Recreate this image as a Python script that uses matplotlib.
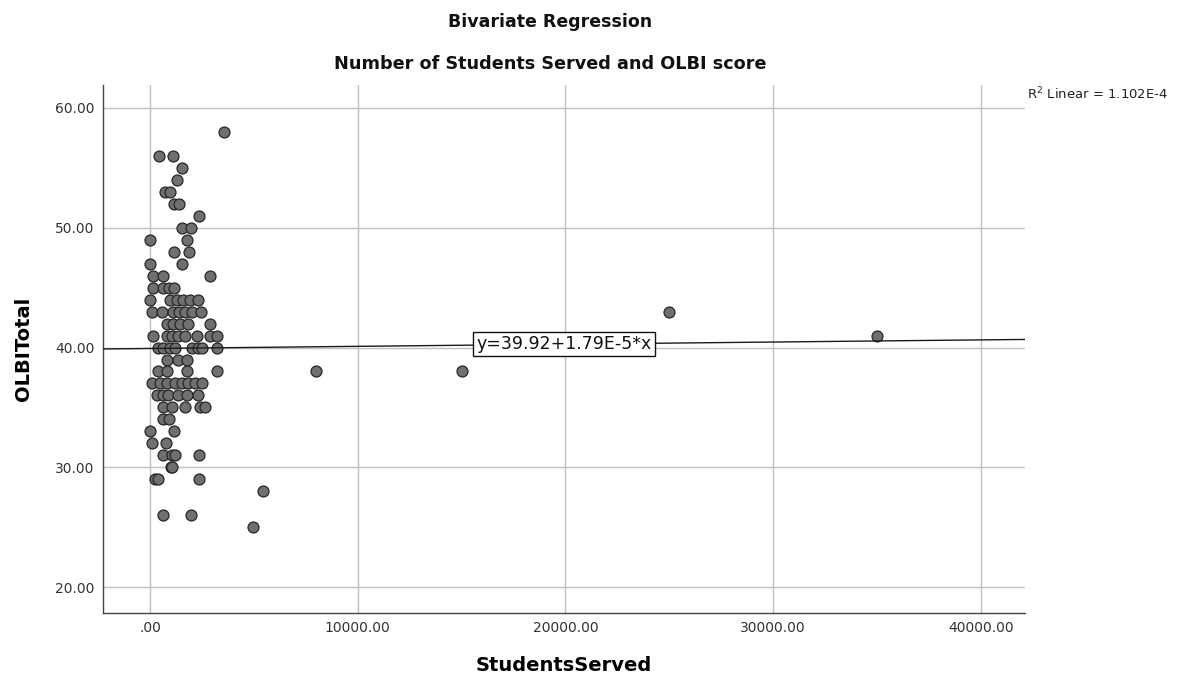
import matplotlib
matplotlib.use("Agg")
import matplotlib.pyplot as plt
import numpy as np

# Observations: number of students served vs. OLBI total score
students_served = [
    3570,
    430, 1110,
    1545,
    1300,
    720, 965,
    1160, 1400,
    2365,
    1545, 1980,
    0, 1790,
    1160, 1880,
    0, 1545,
    145, 630, 2900,
    145, 630, 920, 1160,
    0, 965, 1300, 1590, 1930, 2320,
    100, 580, 1110, 1400, 1690, 2030, 2460, 25000,
    820, 1110, 1450, 1830, 2900,
    145, 820, 1060, 1350, 1690, 2270, 2900, 3230, 35000,
    390, 630, 965, 1210, 2030, 2320, 2510, 3230,
    820, 1350, 1790,
    390, 820, 1790, 3230, 8000, 15000,
    100, 480, 820, 1210, 1545, 1830, 2170, 2510,
    340, 630, 870, 1350, 1790, 2320,
    630, 1060, 1690, 2410, 2650,
    630, 920,
    0, 1160,
    100, 770,
    630, 1060, 1210, 2365,
    1010, 1060,
    240, 390, 2365,
    5450,
    630, 1980,
    4970,
]
olbi_total = [
    58,
    56, 56,
    55,
    54,
    53, 53,
    52, 52,
    51,
    50, 50,
    49, 49,
    48, 48,
    47, 47,
    46, 46, 46,
    45, 45, 45, 45,
    44, 44, 44, 44, 44, 44,
    43, 43, 43, 43, 43, 43, 43, 43,
    42, 42, 42, 42, 42,
    41, 41, 41, 41, 41, 41, 41, 41, 41,
    40, 40, 40, 40, 40, 40, 40, 40,
    39, 39, 39,
    38, 38, 38, 38, 38, 38,
    37, 37, 37, 37, 37, 37, 37, 37,
    36, 36, 36, 36, 36, 36,
    35, 35, 35, 35, 35,
    34, 34,
    33, 33,
    32, 32,
    31, 31, 31, 31,
    30, 30,
    29, 29, 29,
    28,
    26, 26,
    25,
]

# Fitted linear model reported for the data
intercept = 39.92
slope = 1.79e-5
r_squared_label = "1.102E-4"

x_ticks = [0, 10000, 20000, 30000, 40000]
x_tick_labels = [".00", "10000.00", "20000.00", "30000.00", "40000.00"]
y_ticks = [20, 30, 40, 50, 60]
y_tick_labels = ["20.00", "30.00", "40.00", "50.00", "60.00"]

fig = plt.figure(figsize=(11.91, 6.83), dpi=100)
ax = fig.add_axes([0.0865, 0.1025, 0.7741, 0.773])

xlim = (-2270, 42130)
ylim = (17.85, 61.9)
ax.set_xlim(*xlim)
ax.set_ylim(*ylim)

ax.set_xticks(x_ticks)
ax.set_xticklabels(x_tick_labels)
ax.set_yticks(y_ticks)
ax.set_yticklabels(y_tick_labels)
ax.tick_params(axis="both", length=0, labelsize=10, colors="#333333", pad=6)

ax.grid(True, color="#c0c0c0", linewidth=1.0)
ax.set_axisbelow(True)
for side in ("top", "right"):
    ax.spines[side].set_visible(False)
for side in ("left", "bottom"):
    ax.spines[side].set_color("#444444")
    ax.spines[side].set_linewidth(1.0)

ax.scatter(students_served, olbi_total, s=62, facecolor="#6f6f6f",
           edgecolor="#262626", linewidth=0.9, zorder=3)

# Regression line across the full x range
xs = np.array(xlim)
ax.plot(xs, intercept + slope * xs, color="#1a1a1a", linewidth=1.0, zorder=4)

xm = (xlim[0] + xlim[1]) / 2
ax.text(xm, intercept + slope * xm, f"y={intercept:.2f}+{slope:.2E}*x".replace("E-05", "E-5"),
        ha="center", va="center", fontsize=12.5, color="#111111", zorder=5,
        bbox=dict(boxstyle="square,pad=0.18", facecolor="white",
                  edgecolor="#111111", linewidth=1.0))

fig.text(0.862, 0.862, r"R$^2$ Linear = " + r_squared_label, fontsize=9.5,
         color="#222222", ha="left", va="center")

fig.text(0.462, 0.968, "Bivariate Regression", fontsize=12.5, fontweight="bold",
         ha="center", va="center", color="#111111")
fig.text(0.462, 0.906, "Number of Students Served and OLBI score", fontsize=12.7,
         fontweight="bold", ha="center", va="center", color="#111111")

ax.set_xlabel("StudentsServed", fontsize=14, fontweight="bold", labelpad=15)
ax.set_ylabel("OLBITotal", fontsize=14, fontweight="bold", labelpad=16)

fig.savefig("out.png", dpi=100)
